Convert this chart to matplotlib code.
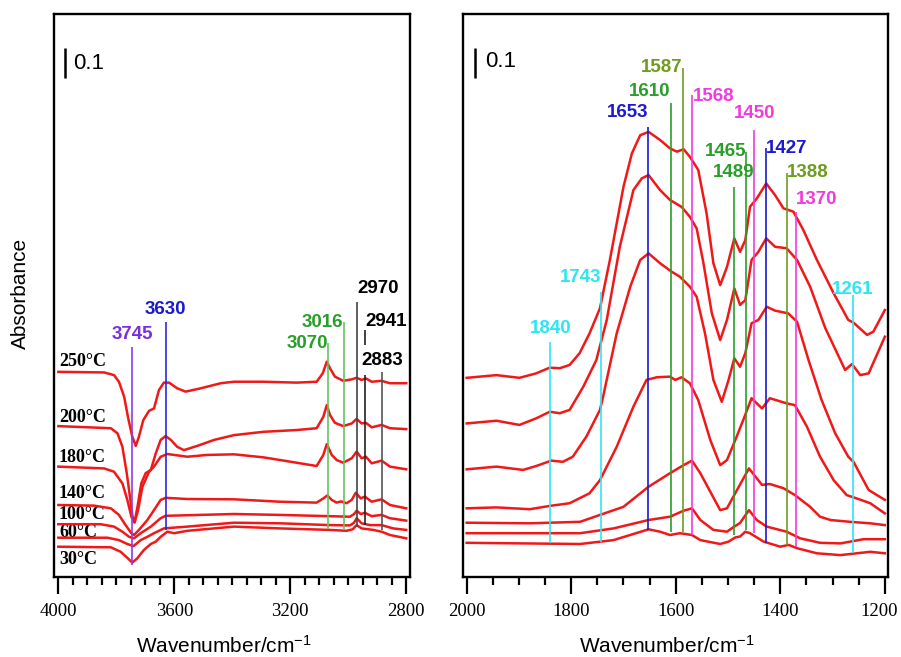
import matplotlib
matplotlib.use("Agg")
import matplotlib.pyplot as plt
from matplotlib.ticker import MultipleLocator
from matplotlib.transforms import ScaledTranslation

plt.rcParams['font.family'] = ['Liberation Sans', 'DejaVu Sans']
plt.rcParams['mathtext.default'] = 'regular'

RED = '#f01818'

# ---------------- high wavenumber region (4000-2800) ----------------
temps = ['250°C', '200°C', '180°C', '140°C', '100°C', '60°C', '30°C']
temp_label_y = [0.718, 0.532, 0.400, 0.277, 0.208, 0.148, 0.060]

hi_wn_250 = [4000, 3842, 3808, 3791, 3773, 3760, 3745, 3733, 3722, 3707, 3687, 3670, 3653, 3636, 3618, 3590,
             3561, 3509, 3440, 3394, 3293, 3178, 3109, 3088, 3074, 3063, 3046, 3017, 2988, 2971, 2954, 2939,
             2919, 2885, 2856, 2800]
hi_abs_250 = [0.684, 0.682, 0.673, 0.651, 0.601, 0.534, 0.468, 0.437, 0.468, 0.523, 0.554, 0.562, 0.623, 0.648,
              0.648, 0.629, 0.618, 0.629, 0.646, 0.651, 0.651, 0.648, 0.651, 0.679, 0.718, 0.696, 0.668, 0.654,
              0.659, 0.664, 0.657, 0.662, 0.651, 0.654, 0.646, 0.646]

hi_wn_200 = [4000, 3819, 3796, 3779, 3764, 3753, 3744, 3737, 3727, 3714, 3699, 3681, 3664, 3647, 3630, 3612,
             3590, 3567, 3521, 3463, 3394, 3293, 3178, 3109, 3086, 3074, 3063, 3046, 3017, 2988, 2971, 2954,
             2939, 2919, 2885, 2856, 2800]
hi_abs_200 = [0.503, 0.496, 0.479, 0.434, 0.346, 0.268, 0.201, 0.184, 0.234, 0.312, 0.346, 0.357, 0.412, 0.457,
              0.470, 0.457, 0.434, 0.423, 0.437, 0.457, 0.473, 0.484, 0.490, 0.496, 0.534, 0.573, 0.540, 0.514,
              0.503, 0.512, 0.527, 0.512, 0.514, 0.499, 0.507, 0.496, 0.493]

hi_wn_180 = [4000, 3842, 3808, 3779, 3762, 3748, 3737, 3725, 3710, 3687, 3670, 3647, 3624, 3555, 3486, 3394,
             3293, 3178, 3109, 3086, 3074, 3057, 3040, 3017, 2988, 2971, 2954, 2939, 2919, 2885, 2856, 2800]
hi_abs_180 = [0.368, 0.362, 0.351, 0.312, 0.257, 0.201, 0.181, 0.223, 0.301, 0.351, 0.368, 0.401, 0.410, 0.401,
              0.407, 0.409, 0.399, 0.381, 0.370, 0.407, 0.443, 0.407, 0.390, 0.381, 0.396, 0.418, 0.396, 0.401,
              0.379, 0.388, 0.368, 0.359]

hi_wn_140 = [4000, 3877, 3819, 3791, 3768, 3748, 3739, 3722, 3693, 3670, 3647, 3630, 3555, 3394, 3236, 3109,
             3086, 3072, 3057, 3040, 3025, 3006, 2988, 2974, 2957, 2943, 2919, 2885, 2856, 2800]
hi_abs_140 = [0.240, 0.238, 0.229, 0.207, 0.173, 0.146, 0.140, 0.157, 0.190, 0.223, 0.257, 0.264, 0.260, 0.259,
              0.251, 0.248, 0.262, 0.272, 0.257, 0.248, 0.252, 0.246, 0.257, 0.281, 0.262, 0.268, 0.251, 0.259,
              0.240, 0.229]

hi_wn_100 = [4000, 3854, 3808, 3779, 3756, 3739, 3716, 3681, 3647, 3630, 3394, 3236, 3074, 2994, 2980, 2971,
             2957, 2943, 2919, 2885, 2856, 2800]
hi_abs_100 = [0.176, 0.176, 0.168, 0.151, 0.134, 0.129, 0.146, 0.168, 0.196, 0.204, 0.210, 0.207, 0.203, 0.201,
              0.210, 0.221, 0.210, 0.214, 0.203, 0.207, 0.196, 0.188]

hi_wn_60 = [4000, 3831, 3791, 3762, 3741, 3716, 3693, 3670, 3636, 3555, 3394, 3236, 3063, 2994, 2980, 2971,
            2954, 2925, 2885, 2845, 2800]
hi_abs_60 = [0.131, 0.131, 0.123, 0.110, 0.103, 0.123, 0.134, 0.146, 0.162, 0.168, 0.181, 0.179, 0.173, 0.172,
             0.181, 0.196, 0.179, 0.173, 0.173, 0.162, 0.157]

hi_wn_30 = [4000, 3819, 3785, 3760, 3745, 3728, 3705, 3681, 3664, 3647, 3624, 3601, 3555, 3394, 3236, 3063,
            3006, 2985, 2971, 2954, 2914, 2885, 2856, 2800]
hi_abs_30 = [0.101, 0.099, 0.084, 0.062, 0.048, 0.062, 0.090, 0.110, 0.118, 0.134, 0.151, 0.146, 0.154, 0.168,
             0.162, 0.157, 0.154, 0.159, 0.173, 0.162, 0.157, 0.151, 0.140, 0.129]

hi_marks = [3745, 3630, 3070, 3016, 2970, 2941, 2883]
hi_mark_top = [0.768, 0.851, 0.780, 0.851, 0.918, 0.823, 0.684]
hi_mark_bottom = [0.040, 0.157, 0.160, 0.157, 0.168, 0.173, 0.157]
hi_mark_line_color = ['#8a3cf0', '#2a2ae0', '#62c462', '#62c462', '#444444', '#222222', '#555555']
hi_mark_text_color = ['#7a2ee0', '#1a1ad0', '#2a9e2a', '#2a9e2a', 'black', 'black', 'black']
hi_mark_text_y = [0.807, 0.893, 0.780, 0.848, 0.963, 0.851, 0.723]
hi_mark_ha = ['center', 'center', 'right', 'right', 'left', 'left', 'center']

# ---------------- low wavenumber region (2000-1200) ----------------
lo_wn_250 = [2000, 1943, 1899, 1867, 1841, 1822, 1803, 1784, 1765, 1745, 1726, 1700, 1684, 1668, 1652, 1630,
             1611, 1598, 1585, 1573, 1557, 1541, 1528, 1515, 1502, 1488, 1477, 1467, 1458, 1445, 1427, 1410,
             1394, 1375, 1356, 1330, 1298, 1270, 1260, 1234, 1222, 1200]
lo_abs_250 = [0.664, 0.673, 0.664, 0.679, 0.698, 0.696, 0.707, 0.746, 0.812, 0.896, 1.057, 1.301, 1.412, 1.473,
              1.484, 1.457, 1.429, 1.418, 1.426, 1.401, 1.357, 1.212, 1.046, 0.973, 1.034, 1.129, 1.084, 1.123,
              1.234, 1.262, 1.312, 1.273, 1.229, 1.218, 1.157, 1.057, 0.946, 0.857, 0.848, 0.807, 0.818, 0.890]

lo_wn_200 = [2000, 1943, 1899, 1867, 1841, 1822, 1803, 1777, 1752, 1732, 1707, 1681, 1665, 1652, 1630, 1611,
             1589, 1573, 1560, 1547, 1531, 1515, 1502, 1488, 1477, 1467, 1455, 1442, 1427, 1410, 1388, 1368,
             1343, 1314, 1276, 1263, 1247, 1231, 1200]
lo_abs_200 = [0.512, 0.521, 0.507, 0.529, 0.551, 0.546, 0.557, 0.634, 0.723, 0.857, 1.101, 1.290, 1.329, 1.340,
              1.290, 1.257, 1.234, 1.201, 1.162, 1.046, 0.879, 0.790, 0.857, 0.962, 0.907, 0.923, 1.057, 1.084,
              1.129, 1.101, 1.096, 1.057, 0.968, 0.830, 0.690, 0.710, 0.673, 0.679, 0.801]

lo_wn_180 = [2000, 1943, 1892, 1867, 1838, 1816, 1797, 1771, 1745, 1739, 1713, 1687, 1668, 1652, 1630, 1608,
             1592, 1573, 1560, 1544, 1528, 1512, 1499, 1488, 1477, 1467, 1455, 1442, 1426, 1410, 1385, 1368,
             1346, 1321, 1295, 1270, 1260, 1231, 1200]
lo_abs_180 = [0.359, 0.368, 0.357, 0.370, 0.388, 0.384, 0.401, 0.468, 0.557, 0.601, 0.812, 0.968, 1.057, 1.079,
              1.046, 1.018, 1.001, 0.968, 0.934, 0.812, 0.657, 0.584, 0.657, 0.729, 0.701, 0.746, 0.846, 0.857,
              0.901, 0.888, 0.879, 0.851, 0.723, 0.590, 0.479, 0.401, 0.384, 0.290, 0.257]

lo_wn_140 = [2000, 1943, 1879, 1841, 1803, 1765, 1745, 1713, 1681, 1656, 1636, 1611, 1601, 1589, 1573, 1557,
             1534, 1515, 1502, 1486, 1471, 1455, 1435, 1420, 1388, 1372, 1349, 1324, 1298, 1273, 1254, 1228, 1200]
lo_abs_140 = [0.229, 0.232, 0.226, 0.237, 0.246, 0.279, 0.323, 0.434, 0.568, 0.657, 0.666, 0.668, 0.657, 0.666,
              0.646, 0.590, 0.457, 0.373, 0.390, 0.457, 0.523, 0.596, 0.562, 0.596, 0.579, 0.573, 0.501, 0.401,
              0.323, 0.273, 0.262, 0.246, 0.212]

lo_wn_100 = [2000, 1879, 1783, 1745, 1700, 1652, 1611, 1585, 1569, 1553, 1515, 1502, 1486, 1460, 1435, 1420,
             1394, 1372, 1343, 1324, 1304, 1267, 1228, 1200]
lo_abs_100 = [0.181, 0.179, 0.184, 0.207, 0.234, 0.301, 0.346, 0.373, 0.388, 0.346, 0.223, 0.229, 0.280, 0.362,
              0.307, 0.310, 0.296, 0.273, 0.234, 0.201, 0.190, 0.184, 0.179, 0.173]

lo_wn_60 = [2000, 1783, 1719, 1652, 1611, 1585, 1569, 1553, 1528, 1502, 1490, 1477, 1460, 1445, 1426, 1388,
            1362, 1324, 1285, 1241, 1200]
lo_abs_60 = [0.146, 0.146, 0.162, 0.190, 0.201, 0.221, 0.229, 0.190, 0.157, 0.151, 0.166, 0.180, 0.223, 0.190,
             0.168, 0.151, 0.129, 0.114, 0.112, 0.126, 0.126]

lo_wn_30 = [2000, 1783, 1719, 1652, 1630, 1611, 1592, 1569, 1553, 1515, 1499, 1486, 1477, 1467, 1458, 1432,
            1400, 1384, 1368, 1330, 1285, 1228, 1200]
lo_abs_30 = [0.114, 0.110, 0.123, 0.159, 0.151, 0.140, 0.146, 0.140, 0.123, 0.110, 0.118, 0.132, 0.135, 0.151,
             0.146, 0.118, 0.101, 0.107, 0.096, 0.079, 0.073, 0.084, 0.079]

lo_marks = [1840, 1743, 1653, 1610, 1587, 1568, 1489, 1465, 1450, 1427, 1388, 1370, 1261]
lo_mark_top = [0.784, 0.951, 1.501, 1.580, 1.697, 1.607, 1.301, 1.418, 1.490, 1.430, 1.347, 1.218, 0.940]
lo_mark_bottom = [0.112, 0.118, 0.157, 0.151, 0.151, 0.140, 0.140, 0.157, 0.147, 0.113, 0.107, 0.101, 0.080]
cyan, blue, green, olive, pink = '#2ee6f2', '#1a1ad0', '#2a9e2a', '#6e9c20', '#f03cdc'
lo_mark_color = [cyan, cyan, blue, green, olive, pink, green, green, pink, blue, olive, pink, cyan]
lo_mark_text_y = [0.830, 0.997, 1.547, 1.618, 1.697, 1.603, 1.347, 1.418, 1.544, 1.427, 1.348, 1.259, 0.958]
lo_mark_ha = ['center', 'right', 'right', 'right', 'right', 'left', 'center', 'right', 'center', 'left',
              'left', 'left', 'center']

hi_curves = [(hi_wn_250, hi_abs_250), (hi_wn_200, hi_abs_200), (hi_wn_180, hi_abs_180),
             (hi_wn_140, hi_abs_140), (hi_wn_100, hi_abs_100), (hi_wn_60, hi_abs_60), (hi_wn_30, hi_abs_30)]
lo_curves = [(lo_wn_250, lo_abs_250), (lo_wn_200, lo_abs_200), (lo_wn_180, lo_abs_180),
             (lo_wn_140, lo_abs_140), (lo_wn_100, lo_abs_100), (lo_wn_60, lo_abs_60), (lo_wn_30, lo_abs_30)]

fig = plt.figure(figsize=(9.01, 6.57), dpi=100)
ax1 = fig.add_axes([54 / 901, 80 / 657, 356 / 901, 563 / 657])
ax2 = fig.add_axes([463 / 901, 80 / 657, 425 / 901, 563 / 657])


def style_axis(ax, lim, majors):
    ax.set_xlim(*lim)
    ax.set_ylim(0, 1.877)
    ax.set_xticks(majors)
    ax.xaxis.set_minor_locator(MultipleLocator(50))
    ax.set_yticks([])
    for s in ax.spines.values():
        s.set_linewidth(1.7)
    ax.tick_params(axis='x', which='major', direction='out', length=12, width=1.6, pad=7)
    ax.tick_params(axis='x', which='minor', direction='out', length=6, width=1.6)
    for lab in ax.get_xticklabels():
        lab.set_fontfamily('Liberation Serif')
        lab.set_fontsize(13.5)


style_axis(ax1, (4015, 2787), [4000, 3600, 3200, 2800])
style_axis(ax2, (2007, 1194), [2000, 1800, 1600, 1400, 1200])

# keep the last tick label inside the canvas
last = ax2.get_xticklabels()[-1]
last.set_transform(last.get_transform() + ScaledTranslation(-4 / 72, 0, fig.dpi_scale_trans))

# curves
for wn, a in hi_curves:
    ax1.plot(wn, a, color=RED, lw=1.8, zorder=2)
for wn, a in lo_curves:
    ax2.plot(wn, a, color=RED, lw=1.8, zorder=2)

# band markers, left
for i, w in enumerate(hi_marks):
    if w == 2941:
        # gap where the 2883 label sits
        ax1.vlines(w, 0.773, hi_mark_top[i], color=hi_mark_line_color[i], lw=1.2, zorder=3)
        ax1.vlines(w, hi_mark_bottom[i], 0.673, color=hi_mark_line_color[i], lw=1.2, zorder=3)
    else:
        ax1.vlines(w, hi_mark_bottom[i], hi_mark_top[i], color=hi_mark_line_color[i], lw=1.2, zorder=3)
    ax1.text(w, hi_mark_text_y[i], str(w), color=hi_mark_text_color[i], fontsize=13.5,
             fontweight='bold', ha=hi_mark_ha[i], va='center', zorder=4)

# band markers, right
for i, w in enumerate(lo_marks):
    ax2.vlines(w, lo_mark_bottom[i], lo_mark_top[i], color=lo_mark_color[i], lw=1.2, zorder=3)
    ax2.text(w, lo_mark_text_y[i], str(w), color=lo_mark_color[i], fontsize=13.5,
             fontweight='bold', ha=lo_mark_ha[i], va='center', zorder=4)

# temperature labels
for t, y in zip(temps, temp_label_y):
    ax1.text(3998, y, t, fontfamily='Liberation Serif', fontweight='bold', fontsize=13,
             ha='left', va='center', zorder=1)

# 0.1 scale bars
ax1.vlines(3978, 1.665, 1.765, color='black', lw=1.8)
ax1.text(3949, 1.713, '0.1', fontsize=16, ha='left', va='center')
ax2.vlines(1984, 1.665, 1.765, color='black', lw=1.8)
ax2.text(1964, 1.717, '0.1', fontsize=16, ha='left', va='center')

fig.text(224 / 901, 4.5 / 657, 'Wavenumber/cm$^{\\mathregular{-1}}$', fontsize=15, ha='center', va='baseline')
fig.text(667 / 901, 4.5 / 657, 'Wavenumber/cm$^{\\mathregular{-1}}$', fontsize=15, ha='center', va='baseline')
fig.text(20.5 / 901, 1 - 293.5 / 657, 'Absorbance', fontsize=15, rotation=90, ha='center', va='center')

fig.savefig('out.png', dpi=100)
